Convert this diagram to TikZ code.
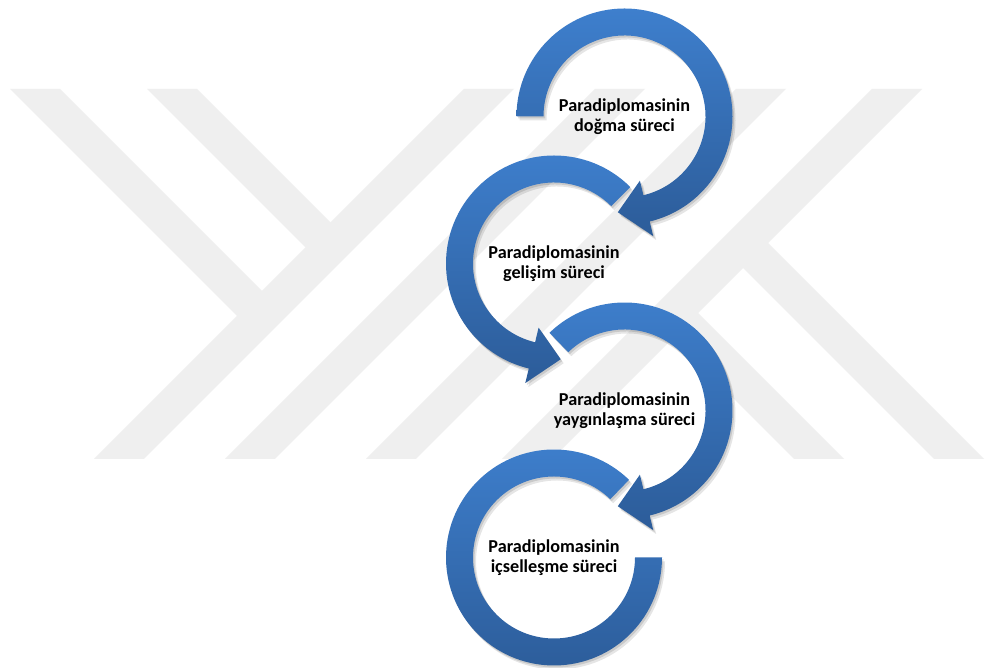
\documentclass[tikz,border=0pt]{standalone}
\usepackage{fontspec}
\setmainfont{Carlito}
\definecolor{wm}{RGB}{239,239,239}
\definecolor{ringtop}{RGB}{62,127,205}
\definecolor{ringbot}{RGB}{44,92,153}
\newcommand\cwring[1]{(#1:108) arc[start angle=#1,end angle=-76.5,radius=108] -- (-76.5:123) -- (-94:96) -- (-76.5:66) -- (-76.5:81) arc[start angle=-76.5,end angle=#1,radius=81] -- cycle}
\newcommand\ccwring[1]{(#1:108) arc[start angle=#1,end angle=256.5,radius=108] -- (256.5:123) -- (274:96) -- (256.5:66) -- (256.5:81) arc[start angle=256.5,end angle=#1,radius=81] -- cycle}
\newcommand\lastring[1]{(#1:108) arc[start angle=#1,end angle=360,radius=108] -- (0:81) arc[start angle=360,end angle=#1,radius=81] -- cycle}
\tikzset{
  lbl/.style={align=center,font=\fontsize{18.2}{20.5}\selectfont\bfseries,inner sep=0pt,text=black},
  wmband/.style={fill=wm},
  shadowA/.style={fill=black,opacity=0.10},
  shadowB/.style={fill=black,opacity=0.12},
  ringfill/.style={top color=ringtop,bottom color=ringbot}
}
\begin{document}
\begin{tikzpicture}[x=1pt,y=1pt]
\useasboundingbox (0,0) rectangle (985,668);
\fill[white] (0,0) rectangle (985,668);
% watermark
\fill[wmband] (464,579) -- (514,579) -- (144,209) -- (94,209) -- cycle;
\fill[wmband] (595,579) -- (645,579) -- (275,209) -- (225,209) -- cycle;
\fill[wmband] (736,579) -- (786,579) -- (416,209) -- (366,209) -- cycle;
\fill[wmband] (872,579) -- (922,579) -- (552,209) -- (502,209) -- cycle;
\fill[wmband] (10,579) -- (60,579) -- (274.5,364.5) -- (249.5,339.5) -- cycle;
\fill[wmband] (147,579) -- (197,579) -- (343,433) -- (318,408) -- cycle;
\fill[wmband] (730.5,412.5) -- (755.5,437.5) -- (984,209) -- (934,209) -- cycle;
\fill[wmband] (660.5,342.5) -- (685.5,367.5) -- (844,209) -- (794,209) -- cycle;
% text nodes (centres of the rings)
\node[lbl] (t1) at (624.5,551.5) {Paradiplomasinin\\doğma süreci};
\node[lbl] (t2) at (554,404.5) {Paradiplomasinin\\gelişim süreci};
\node[lbl] (t3) at (624.5,257.5) {Paradiplomasinin\\yaygınlaşma süreci};
\node[lbl] (t4) at (554,110.5) {Paradiplomasinin\\içselleşme süreci};
% shadows
\foreach \sx/\sy/\st in {3/-4/shadowA,1.5/-2/shadowB}{
  \fill[\st,shift={(t1.center)},shift={(\sx,\sy)}] \cwring{180};
  \fill[\st,shift={(t2.center)},shift={(\sx,\sy)}] \ccwring{45};
  \fill[\st,shift={(t3.center)},shift={(\sx,\sy)}] \cwring{134};
  \fill[\st,shift={(t4.center)},shift={(\sx,\sy)}] \lastring{46};
}
% rings
\shade[ringfill,shift={(t1.center)}] \cwring{180};
\shade[ringfill,shift={(t2.center)}] \ccwring{45};
\shade[ringfill,shift={(t3.center)}] \cwring{134};
\shade[ringfill,shift={(t4.center)}] \lastring{46};
\end{tikzpicture}
\end{document}
